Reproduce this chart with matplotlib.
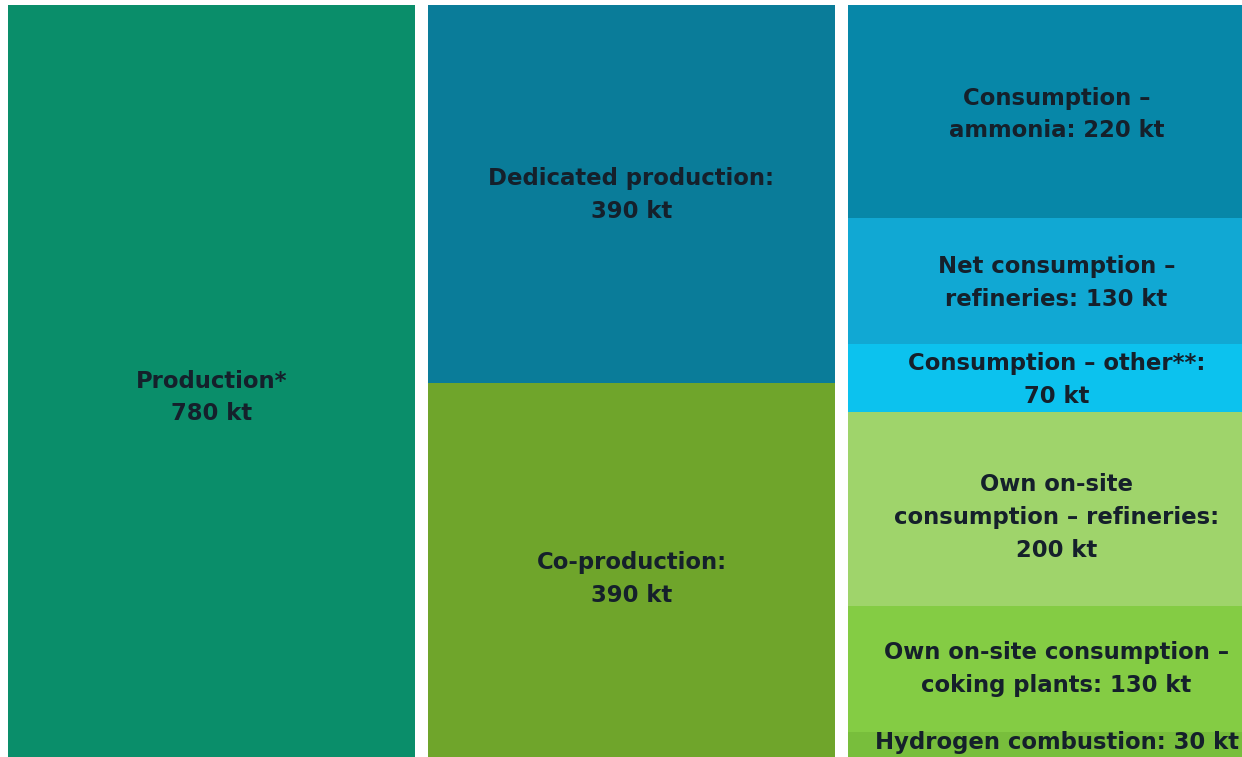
import matplotlib
matplotlib.use("Agg")
import matplotlib.pyplot as plt

# Data (kt)
columns = ["Production", "Split", "Use"]
col1_labels = ["Production*\n780 kt"]
col1_values = [780]
col1_colors = ["#0A8E6A"]

col2_labels = ["Dedicated production:\n390 kt", "Co-production:\n390 kt"]
col2_values = [390, 390]
col2_colors = ["#0A7C99", "#6FA52B"]

col3_labels = ["Consumption –\nammonia: 220 kt",
               "Net consumption –\nrefineries: 130 kt",
               "Consumption – other**:\n70 kt",
               "Own on-site\nconsumption – refineries:\n200 kt",
               "Own on-site consumption –\ncoking plants: 130 kt",
               "Hydrogen combustion: 30 kt"]
col3_values = [220, 130, 70, 200, 130, 30]
col3_colors = ["#0787A8", "#11A8D3", "#0CC2EE", "#9FD46B", "#84CC44", "#78BE3C"]

# label vertical offsets (style, in kt units)
col1_offsets = [15]
col2_offsets = [1, 7]
col3_offsets = [3, 2, 2, 9, 0, -4]

W, H = 1242, 757
fig = plt.figure(figsize=(W / 100, H / 100), dpi=100)
top_px, bot_px = 5, 761
ax = fig.add_axes([0, 1 - bot_px / H, 1, (bot_px - top_px) / H])
ax.set_axis_off()

text_kw = dict(ha="center", va="center", fontsize=16.4, fontweight="bold",
               color="#15202B", family=["DejaVu Sans"], linespacing=1.55)

bar_w = 0.969
stacks = [(col1_values, col1_colors, col1_labels, col1_offsets),
          (col2_values, col2_colors, col2_labels, col2_offsets),
          (col3_values, col3_colors, col3_labels, col3_offsets)]
for i, (vals, cols, labs, offs) in enumerate(stacks):
    bottom = 0
    for v, c, lab, off in zip(vals, cols, labs, offs):
        ax.bar(i, v, bottom=bottom, width=bar_w, color=c, linewidth=0, align="center")
        ax.text(i + (0.012 if i == 2 else 0), bottom + v / 2 + off, lab, **text_kw)
        bottom += v

ax.set_xlim(-211.5 / 420, (W - 211.5) / 420)
ax.set_ylim(780, 0)

fig.savefig("out.png", dpi=100, facecolor="white")
